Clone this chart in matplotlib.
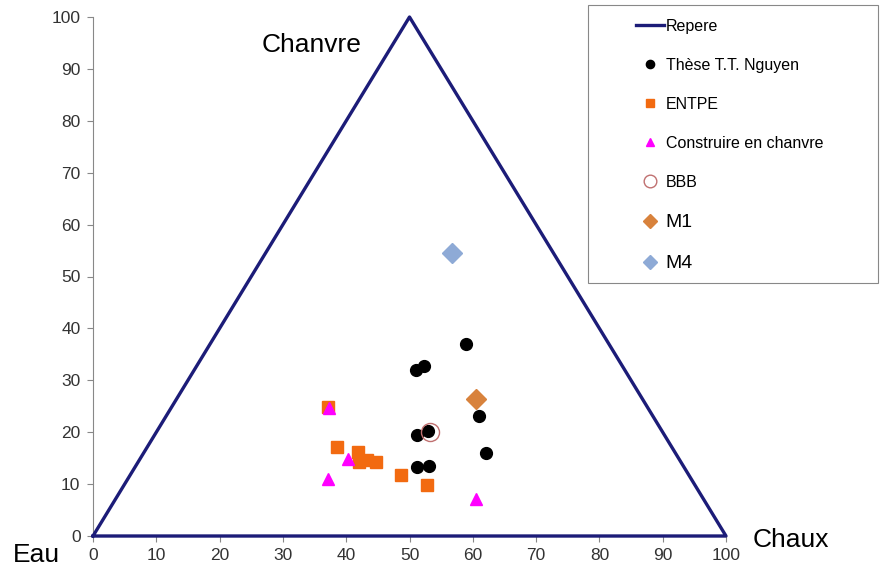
import numpy as np
import matplotlib.pyplot as plt
from matplotlib.patches import Rectangle

plt.rcParams['font.family'] = ['Liberation Sans', 'DejaVu Sans']

# triangle frame (Eau, Chanvre, Chaux corners)
repere_x = [0, 50, 100, 0]
repere_y = [0, 100, 0, 0]

# series
these_x = [58.9, 51.0, 52.3, 51.2, 52.9, 61.0, 62.1, 51.2, 53.1]
these_y = [37.0, 32.0, 32.8, 19.5, 20.2, 23.1, 16.0, 13.3, 13.5]

entpe_x = [37.1, 38.6, 41.9, 42.0, 43.3, 44.7, 48.6, 52.8]
entpe_y = [24.9, 17.1, 16.2, 14.3, 14.6, 14.3, 11.8, 9.8]

chanvre_x = [37.3, 40.3, 37.1, 60.5]
chanvre_y = [24.7, 14.8, 11.0, 7.1]

bbb_x = [53.2]
bbb_y = [20.0]

m1_x = [60.5]
m1_y = [26.4]

m4_x = [56.7]
m4_y = [54.5]

ticks = np.arange(0, 101, 10)

fig = plt.figure(figsize=(8.9, 5.74), dpi=100)
ax = fig.add_axes([93 / 890, 38 / 574, 633 / 890, 519 / 574])

navy = '#1c1c78'
ax.plot(repere_x, repere_y, color=navy, lw=2.4, clip_on=False, zorder=3, label='Repere')
ax.plot(these_x, these_y, 'o', color='black', ms=8.5, ls='none', zorder=4, label='Thèse T.T. Nguyen')
ax.plot(entpe_x, entpe_y, 's', color='#f26a10', ms=9, ls='none', zorder=4, label='ENTPE')
ax.plot(chanvre_x, chanvre_y, '^', color='#ff00ff', ms=8, ls='none', zorder=5, label='Construire en chanvre')
ax.plot(bbb_x, bbb_y, 'o', mfc='none', mec='#c07070', mew=1.0, ms=13, ls='none', zorder=5, label='BBB')
ax.plot(m1_x, m1_y, 'D', color='#d8823c', ms=10, ls='none', zorder=6, label='M1')
ax.plot(m4_x, m4_y, 'D', color='#8eaad6', ms=10, ls='none', zorder=6, label='M4')

ax.set_xlim(0, 100)
ax.set_ylim(0, 100)
ax.set_xticks(ticks)
ax.set_yticks(ticks)
ax.tick_params(labelsize=12.5, colors='#333333', length=4, width=0.8, color='#888888', pad=5)
for s in ['top', 'right']:
    ax.spines[s].set_visible(False)
for s in ['left', 'bottom']:
    ax.spines[s].set_color('#888888')
    ax.spines[s].set_linewidth(0.8)

fig.text(312 / 890, 1 - 45 / 574, 'Chanvre', fontsize=19, ha='center', va='center')
fig.text(36 / 890, 1 - 555 / 574, 'Eau', fontsize=19, ha='center', va='center')
fig.text(791 / 890, 1 - 540 / 574, 'Chaux', fontsize=19, ha='center', va='center')

# legend frame drawn separately so the entries can sit indented inside it
fig.patches.append(Rectangle((588 / 890, 1 - 283 / 574), 290 / 890, 278 / 574,
                             transform=fig.transFigure, fill=False,
                             edgecolor='#888888', lw=0.8))
leg = ax.legend(loc='upper left', bbox_to_anchor=(636 / 890, 1 - 19 / 574),
                bbox_transform=fig.transFigure, fontsize=11.5, frameon=False,
                labelspacing=1.5, handlelength=1.75, handletextpad=0.1,
                borderpad=0, borderaxespad=0, markerscale=0.7)
for t in leg.get_texts()[5:]:
    t.set_fontsize(14)

plt.savefig('out.png', dpi=100)
